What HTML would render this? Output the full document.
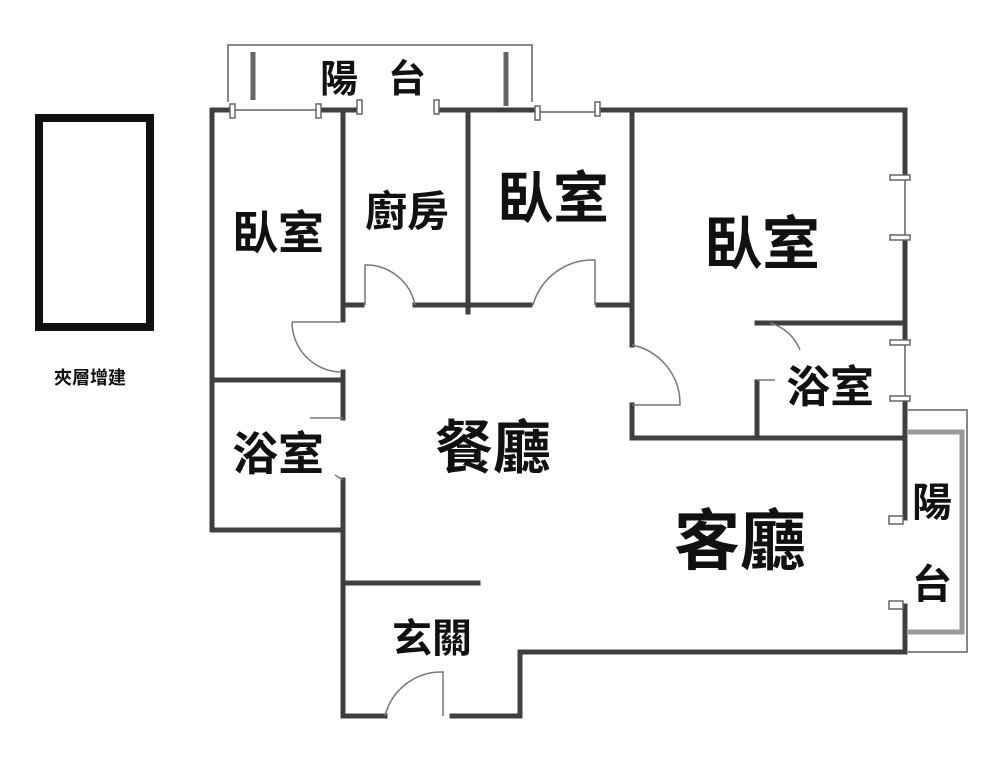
<!DOCTYPE html>
<html><head><meta charset="utf-8"><style>
body{margin:0;background:#fff}
svg text{font-family:"Liberation Sans","Noto Sans CJK TC",sans-serif;fill:#111;text-anchor:middle;font-weight:bold}
</style></head><body>
<svg width="1000" height="778" viewBox="0 0 1000 778" xmlns="http://www.w3.org/2000/svg">
<rect x="39" y="118" width="111" height="209" fill="none" stroke="#111" stroke-width="8"/>
<text x="90" y="384" font-size="18" font-weight="normal">夾層增建</text>
<!-- top balcony -->
<g fill="none" stroke="#888" stroke-width="2">
<polyline points="228,102 228,45 532,45 532,102"/>
<line x1="232" y1="110" x2="318" y2="110"/><line x1="537" y1="112" x2="598" y2="112"/>
<line x1="905" y1="176" x2="905" y2="238"/><line x1="905" y1="341" x2="905" y2="398"/>
<polyline points="908,432 962,432 962,632 908,632" stroke-width="5" stroke="#999"/>
<polyline points="908,410 967,410 967,652 908,652" stroke-width="2"/>
</g>
<g stroke="#666" stroke-width="5"><line x1="253" y1="52" x2="253" y2="100"/><line x1="506" y1="52" x2="506" y2="106"/></g>
<g fill="none" stroke="#3f3f3f" stroke-width="5" stroke-linecap="square">
<polyline points="232,110 212,110 212,530 343,530"/>
<line x1="318" y1="110" x2="357" y2="110"/>
<polyline points="440,110 537,110"/>
<polyline points="598,110 905,110 905,176"/>
<line x1="905" y1="238" x2="905" y2="341"/>
<line x1="905" y1="398" x2="905" y2="518"/>
<polyline points="905,606 905,652 520,652 520,716 452,716"/>
<polyline points="385,716 343,716 343,480"/>
<line x1="343" y1="418" x2="343" y2="372"/>
<line x1="343" y1="320" x2="343" y2="110"/>
<line x1="212" y1="380" x2="343" y2="380"/>
<line x1="343" y1="583" x2="478" y2="583"/>
<line x1="468" y1="110" x2="468" y2="312"/>
<line x1="343" y1="305" x2="362" y2="305"/>
<line x1="415" y1="305" x2="530" y2="305"/>
<line x1="598" y1="305" x2="632" y2="305"/>
<line x1="632" y1="110" x2="632" y2="345"/>
<polyline points="632,405 632,438 905,438"/>
<line x1="757" y1="323" x2="905" y2="323"/>
<line x1="757" y1="382" x2="757" y2="438"/>
</g>
<!-- doors -->
<g fill="none" stroke="#777" stroke-width="1.5">
<path d="M365,305 V265 A50,50 0 0 1 415,305"/>
<path d="M595,305 V260 A62,62 0 0 0 533,305"/>
<path d="M292,322 H340 M292,322 A50,50 0 0 0 340,372"/>
<path d="M632,345 A60,60 0 0 1 680,405 H632"/>
<path d="M770,323 A45,45 0 0 1 800,350"/>
<path d="M757,380 H775"/>
<path d="M343,418 H310 M343,480 L335,475"/>
<path d="M443,716 V672 A58,58 0 0 0 385,716"/>
</g>
<g fill="#fff" stroke="#666" stroke-width="1.5">
<rect x="230" y="104" width="5" height="14"/><rect x="316" y="104" width="5" height="14"/>
<rect x="357" y="100" width="5" height="14"/><rect x="434" y="100" width="5" height="14"/>
<rect x="535" y="106" width="5" height="14"/><rect x="595" y="102" width="5" height="14"/>
<rect x="890" y="175" width="20" height="5"/><rect x="890" y="235" width="20" height="5"/>
<rect x="890" y="340" width="20" height="5"/><rect x="890" y="396" width="20" height="5"/>
<rect x="889" y="516" width="14" height="8"/><rect x="889" y="601" width="14" height="8"/>
</g>
<text x="388" y="92" font-size="38" font-weight="normal" letter-spacing="30">陽台</text>
<text x="278" y="249" font-size="46">臥室</text>
<text x="407" y="226" font-size="42">廚房</text>
<text x="553" y="218" font-size="56">臥室</text>
<text x="762" y="264" font-size="58">臥室</text>
<text x="830" y="402" font-size="44">浴室</text>
<text x="278" y="470" font-size="46">浴室</text>
<text x="493" y="468" font-size="58">餐廳</text>
<text x="740" y="564" font-size="66">客廳</text>
<text x="432" y="652" font-size="40">玄關</text>
<text x="932" y="516" font-size="40" font-weight="normal">陽</text>
<text x="932" y="598" font-size="40" font-weight="normal">台</text>
</svg>
</body></html>
